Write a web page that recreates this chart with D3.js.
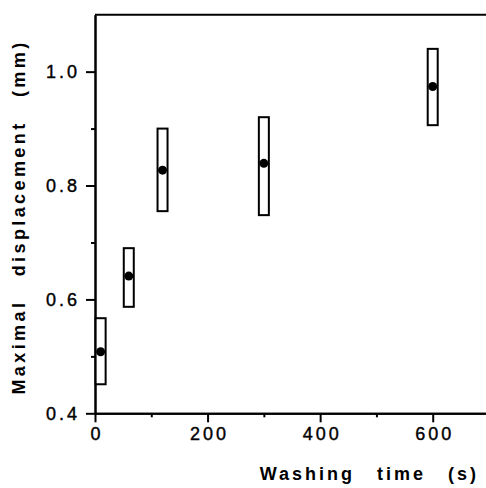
<!DOCTYPE html>
<html lang="en">
<head>
<meta charset="utf-8">
<title>Maximal displacement vs washing time</title>
<script src="https://cdn.jsdelivr.net/npm/d3@7"></script>
<style>
  body { margin: 0; background: #fff; }
  svg { display: block; }
</style>
</head>
<body>
<script>
// data
var times = [10, 60, 120, 300, 600];
var means = [0.508, 0.641, 0.827, 0.839, 0.974];
var lows  = [0.451, 0.587, 0.755, 0.748, 0.906];
var highs = [0.567, 0.690, 0.900, 0.920, 1.040];

var xMajor = [0, 200, 400, 600];
var xMinor = [100, 300, 500, 700];
var yMajor = [0.4, 0.6, 0.8, 1.0];
var yMinor = [0.5, 0.7, 0.9];

var w = 486, h = 488;
var plotLeft = 95, plotRight = 489, plotTop = 14.7, plotBottom = 413.3;
var font = "'Liberation Sans', Arial, Helvetica, sans-serif";

var xScale = d3.scaleLinear().domain([0, 700]).range([plotLeft, plotRight]);
var yScale = d3.scaleLinear().domain([0.4, 1.1]).range([plotBottom, plotTop]);

var svg = d3.select("body").append("svg")
  .attr("width", w).attr("height", h);

function styleAxis(g, size) {
  g.select(".domain").attr("stroke", "#000").attr("stroke-width", 2);
  g.selectAll(".tick line").attr("stroke", "#000").attr("stroke-width", 2);
  g.selectAll(".tick text")
    .attr("fill", "#000")
    .attr("stroke", "#000")
    .attr("stroke-width", 0.4)
    .style("font-family", font)
    .style("font-size", size + "px")
    .style("letter-spacing", "3px");
}

// minor ticks first
svg.append("g")
  .attr("transform", "translate(0," + plotBottom + ")")
  .call(d3.axisBottom(xScale).tickValues(xMinor).tickSize(4).tickSizeOuter(0).tickFormat(""))
  .call(styleAxis, 18);
svg.append("g")
  .attr("transform", "translate(" + plotLeft + ",0)")
  .call(d3.axisLeft(yScale).tickValues(yMinor).tickSize(4).tickSizeOuter(0).tickFormat(""))
  .call(styleAxis, 18);

// major axes
var xAxis = svg.append("g")
  .attr("transform", "translate(0," + plotBottom + ")")
  .call(d3.axisBottom(xScale).tickValues(xMajor).tickSize(9).tickPadding(5).tickSizeOuter(0))
  .call(styleAxis, 18);
xAxis.selectAll(".tick text").attr("dx", "1.5px");

var yAxis = svg.append("g")
  .attr("transform", "translate(" + plotLeft + ",0)")
  .call(d3.axisLeft(yScale).tickValues(yMajor).tickSize(9).tickPadding(6).tickSizeOuter(0)
    .tickFormat(d3.format(".1f")))
  .call(styleAxis, 18);

// top frame line
svg.append("line")
  .attr("x1", plotLeft).attr("x2", plotRight)
  .attr("y1", yScale(1.1)).attr("y2", yScale(1.1))
  .attr("stroke", "#000").attr("stroke-width", 2);

// range boxes
var boxW = 10;
svg.selectAll("rect.box")
  .data(times)
  .enter()
  .append("rect")
  .attr("class", "box")
  .attr("x", function(d) { return xScale(d) - boxW / 2; })
  .attr("y", function(d, i) { return yScale(highs[i]); })
  .attr("width", boxW)
  .attr("height", function(d, i) { return yScale(lows[i]) - yScale(highs[i]); })
  .attr("fill", "#fff")
  .attr("stroke", "#000")
  .attr("stroke-width", 2);

// mean points
svg.selectAll("circle.mean")
  .data(times)
  .enter()
  .append("circle")
  .attr("class", "mean")
  .attr("cx", function(d) { return xScale(d); })
  .attr("cy", function(d, i) { return yScale(means[i]); })
  .attr("r", 4.5)
  .attr("fill", "#000");

// axis titles
svg.append("text")
  .attr("x", 479).attr("y", 480)
  .attr("text-anchor", "end")
  .style("font-family", font)
  .style("font-size", "18px")
  .style("font-weight", "bold")
  .style("letter-spacing", "3px")
  .style("word-spacing", "14px")
  .text("Washing time (s)");

svg.append("text")
  .attr("transform", "translate(25," + ((plotTop + plotBottom) / 2 + 3) + ") rotate(-90)")
  .attr("text-anchor", "middle")
  .style("font-family", font)
  .style("font-size", "18px")
  .style("font-weight", "bold")
  .style("letter-spacing", "3.4px")
  .style("word-spacing", "15px")
  .text("Maximal displacement (mm)");
</script>
</body>
</html>
